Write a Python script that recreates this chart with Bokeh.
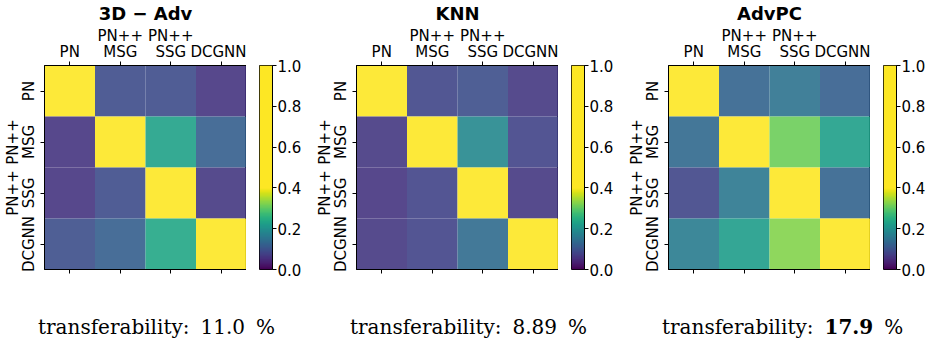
import numpy as np
from bokeh.plotting import figure
from bokeh.models import (LinearColorMapper, FixedTicker, LinearAxis,
                          Range1d, ColumnDataSource, PrintfTickFormatter, Div)
from bokeh.layouts import row, column
from bokeh.palettes import Viridis256
from bokeh.embed import file_html
from bokeh.resources import INLINE

# ---------------- data ----------------
models = ["PN", "PN++\nMSG", "PN++\nSSG", "DCGNN"]
titles = ["3D \u2212 Adv", "KNN", "AdvPC"]
transfer_text = ["11.0", "8.89", "17.9"]
transfer_best = [False, False, True]

adv3d = [
    [1.00, 0.090, 0.090, 0.060],
    [0.060, 1.00, 0.230, 0.120],
    [0.060, 0.090, 1.00, 0.065],
    [0.095, 0.120, 0.235, 1.00],
]
knn = [
    [1.00, 0.085, 0.095, 0.065],
    [0.065, 1.00, 0.185, 0.080],
    [0.060, 0.080, 1.00, 0.065],
    [0.065, 0.080, 0.140, 1.00],
]
advpc = [
    [1.00, 0.125, 0.150, 0.120],
    [0.135, 1.00, 0.310, 0.225],
    [0.085, 0.160, 1.00, 0.125],
    [0.165, 0.220, 0.325, 1.00],
]
matrices = [adv3d, knn, advpc]
cbar_ticks = [0.0, 0.2, 0.4, 0.6, 0.8, 1.0]
cbar_low, cbar_high = 0.0, 1.0

# ---------------- colour map: viridis over [0, 0.4], saturated above ----------------
cut = 0.4
pal = []
for i in range(256):
    v = (i + 0.5) / 256
    if v < cut:
        pal.append(Viridis256[min(255, int(v / cut * 256))])
    else:
        pal.append(Viridis256[-1])

FONT = "DejaVu Sans"
SERIF = "DejaVu Serif"
n = len(models)

FRAME_W = 202
FRAME_H = 204
LEFT = 41
TOP = 58
BOTTOM = 20
CB_GAP = 13
CB_W = 13
CB_RIGHT = [33, 33, 38]
CAP_H = 325 - (TOP + FRAME_H + BOTTOM)


def style_axis(ax, labels=True):
    ax.ticker = FixedTicker(ticks=list(range(n)))
    ax.major_label_overrides = {i: m for i, m in enumerate(models)}
    ax.major_tick_in = 0
    ax.major_tick_out = 4
    ax.minor_tick_line_color = None
    ax.major_tick_line_color = "black"
    ax.axis_line_color = "black"
    ax.major_label_text_font = FONT
    ax.major_label_text_font_size = "15px" if labels else "0px"
    ax.major_label_text_line_height = 0.87
    ax.major_label_text_color = "black" if labels else None
    ax.major_label_standoff = 1


cols = []
for k, (mat, ttl) in enumerate(zip(matrices, titles)):
    xs, ys, vs = [], [], []
    for r in range(n):
        for c in range(n):
            xs.append(c)
            ys.append(r)
            vs.append(mat[r][c])
    src = ColumnDataSource(dict(x=xs, y=ys, v=vs))
    mapper = LinearColorMapper(palette=pal, low=cbar_low, high=cbar_high)

    # ---- heatmap ----
    p = figure(frame_width=FRAME_W, frame_height=FRAME_H,
               x_range=Range1d(-0.5, n - 0.5), y_range=Range1d(n - 0.5, -0.5),
               x_axis_location="above", toolbar_location=None, output_backend="svg",
               min_border_left=LEFT, min_border_right=0,
               min_border_top=TOP, min_border_bottom=BOTTOM)
    p.rect(x="x", y="y", width=1, height=1, source=src,
           fill_color={"field": "v", "transform": mapper}, fill_alpha=0.9, line_color=None)
    p.grid.visible = False
    p.outline_line_color = "black"
    p.background_fill_color = "white"

    style_axis(p.xaxis[0])
    style_axis(p.yaxis[0])
    p.yaxis[0].major_label_orientation = "vertical"
    p.yaxis[0].major_label_standoff = 3
    bottom = LinearAxis()
    style_axis(bottom, labels=False)
    p.add_layout(bottom, "below")

    p.title.text = ttl
    p.title.align = "center"
    p.title.text_font = FONT
    p.title.text_font_size = "18px"
    p.title.text_font_style = "bold"
    p.title.text_color = "black"
    p.title.standoff = 0

    # ---- colour bar as its own small figure ----
    grad = np.linspace(cbar_low, cbar_high, 512).reshape(512, 1)
    cbf = figure(frame_width=CB_W, frame_height=FRAME_H,
                 x_range=Range1d(0, 1), y_range=Range1d(cbar_low, cbar_high),
                 x_axis_type=None, y_axis_location="right",
                 toolbar_location=None, output_backend="svg",
                 min_border_left=CB_GAP, min_border_right=CB_RIGHT[k],
                 min_border_top=TOP, min_border_bottom=BOTTOM)
    cbf.image(image=[grad], x=0, y=cbar_low, dw=1, dh=cbar_high - cbar_low,
              color_mapper=mapper)
    cbf.grid.visible = False
    cbf.outline_line_color = "black"
    ya = cbf.yaxis[0]
    ya.ticker = FixedTicker(ticks=cbar_ticks)
    ya.formatter = PrintfTickFormatter(format="%.1f")
    ya.major_tick_in = 0
    ya.major_tick_out = 4
    ya.minor_tick_line_color = None
    ya.major_tick_line_color = "black"
    ya.axis_line_color = "black"
    ya.major_label_text_font = FONT
    ya.major_label_text_font_size = "15px"
    ya.major_label_text_color = "black"
    ya.major_label_standoff = 1

    # ---- caption ----
    num = transfer_text[k]
    if transfer_best[k]:
        num = "<b>" + num + "</b>"
    html = ('<div style="padding-left:%dpx;padding-top:22px;line-height:22px;'
            'white-space:nowrap;font-family:\'%s\';font-size:20px;color:black;">'
            'transferability:<span style="margin-left:11px">%s</span>'
            '<span style="margin-left:11px">%%</span></div>') % (LEFT - 8, SERIF, num)
    W = LEFT + FRAME_W + CB_GAP + CB_W + CB_RIGHT[k]
    cap = Div(text=html, width=W, height=CAP_H)
    cols.append(column(row(p, cbf), cap))

layout = row(*cols)
open("out.html", "w").write(file_html(layout, INLINE))
